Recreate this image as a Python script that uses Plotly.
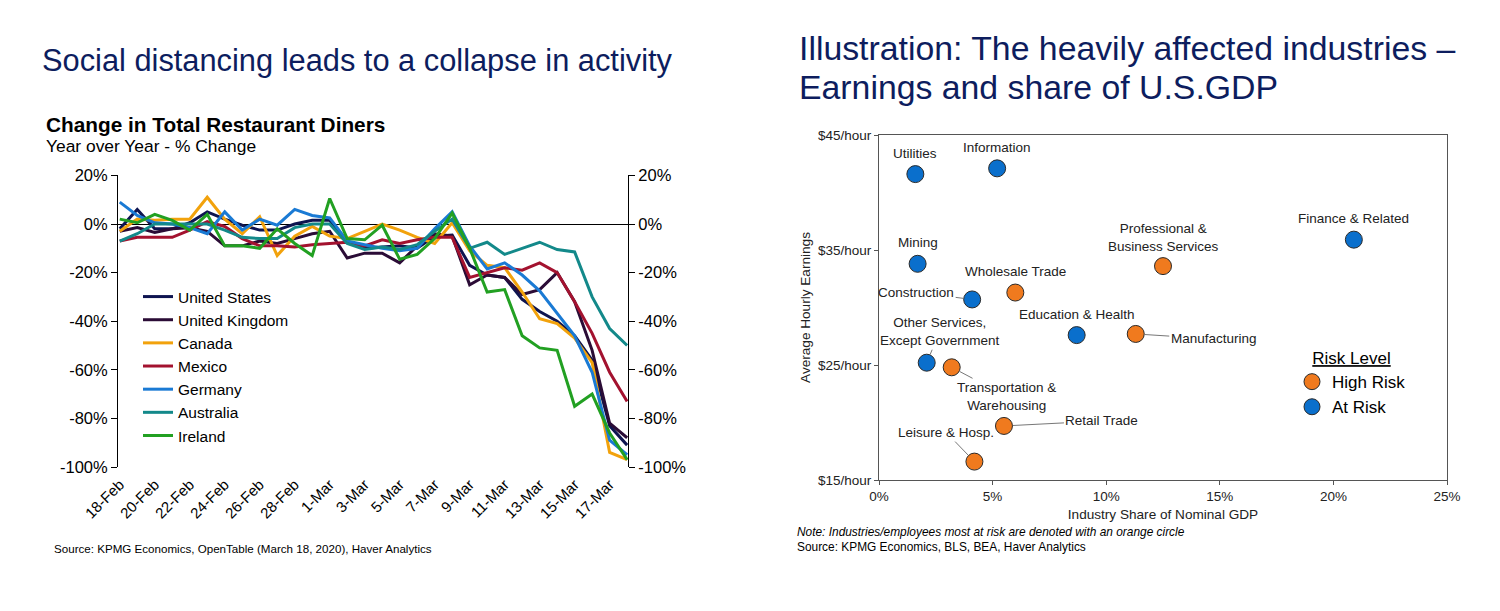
import plotly.graph_objects as go

# page is 1500x611; the html body has an 8px margin, so the figure is 1484x595
FW, FH = 1484, 595
OFF = 8
FONT = "Arial, Liberation Sans, Helvetica, sans-serif"
NAVY = "#0d1d5e"


def PX(X):
    return (X - OFF) / FW


def PY(Y):
    return 1 - (Y - OFF) / FH


# ---------------- Left chart data ----------------
dates = ["18-Feb", "19-Feb", "20-Feb", "21-Feb", "22-Feb", "23-Feb", "24-Feb", "25-Feb",
         "26-Feb", "27-Feb", "28-Feb", "29-Feb", "1-Mar", "2-Mar", "3-Mar", "4-Mar",
         "5-Mar", "6-Mar", "7-Mar", "8-Mar", "9-Mar", "10-Mar", "11-Mar", "12-Mar",
         "13-Mar", "14-Mar", "15-Mar", "16-Mar", "17-Mar", "18-Mar"]
tick_dates = ["18-Feb", "20-Feb", "22-Feb", "24-Feb", "26-Feb", "28-Feb", "1-Mar", "3-Mar",
              "5-Mar", "7-Mar", "9-Mar", "11-Mar", "13-Mar", "15-Mar", "17-Mar"]

united_states = [-2, 6, -2, -2, 0.5, 5, 2, -0.5, -2.5, -2.5, 0, 1.5, 1.5, -7.5, -10, -9.5,
                 -9, -10, -5, -4.5, -17, -21, -22, -31, -36, -40, -46, -56, -83, -91]
united_kingdom = [-3, -1.5, -3.5, -2, -1.5, -3, -9, -9, -7, -8, -6, -4, -3, -14, -12, -12,
                  -16, -9, -4, -5, -25, -21, -22, -29, -27, -20, -32, -52, -82, -88]
canada = [-3, 2, 1.5, 2, 2, 11, 2, -4, 3, -13, -5, -1, -5, -6, -3, 0, -2.5, -5.5, -8,
          0.5, -11, -17, -18, -28, -39, -41, -47, -57, -94, -97]
mexico = [-7, -5.5, -5.5, -5.5, -2.5, 1, -1, -6, -9, -9, -9.5, -8.5, -8, -7.5, -9, -6.5,
          -8, -6.5, -5.5, -5.5, -22, -20, -18, -19, -16, -20, -32, -45, -61, -73]
germany = [9, 3.5, 0.5, 0, -1.5, -4, 5, -2.5, 2, -0.5, 6, 3.5, 2.5, -7, -8.5, -10, -11,
           -10, -2, 5, -9, -18.5, -16, -21, -27.5, -37, -46, -61, -89, -95]
australia = [-7, -4, 0, 0, 0, 0, -2.5, -5.5, -6, -6, -1.5, 0, 0, -8, -10.5, -9.5, -10.5,
             -8.5, -3, 2, -10, -7.5, -12.5, -10, -7.5, -10.5, -11.5, -30, -43, -50]
ireland = [2, 0.5, 4, 1.5, -2.5, 4, -9, -9, -10, -2, -8, -13, 10.5, -6, -6.5, -0.5, -14.5,
           -12.5, -6, 4.5, -10, -28, -27, -46, -51, -52, -75, -70, -86, -97]

left_series = [
    ("United States", united_states, "#0e1450"),
    ("United Kingdom", united_kingdom, "#2b0c36"),
    ("Canada", canada, "#f2a20c"),
    ("Mexico", mexico, "#a3122f"),
    ("Germany", germany, "#1a7ad4"),
    ("Australia", australia, "#13898a"),
    ("Ireland", ireland, "#22a022"),
]

left_ticks = [20, 0, -20, -40, -60, -80, -100]

# ---------------- Right chart data ----------------
industries = ["Utilities", "Information", "Mining", "Construction", "Wholesale Trade",
              "Professional &<br>Business Services", "Finance & Related",
              "Education & Health", "Manufacturing", "Other Services,<br>Except Government",
              "Transportation &<br>Warehousing", "Retail Trade", "Leisure & Hosp."]
gdp_share = [1.6, 5.2, 1.7, 4.1, 6.0, 12.5, 20.9, 8.7, 11.3, 2.1, 3.2, 5.5, 4.2]
hourly_earnings = [41.6, 42.1, 33.8, 30.7, 31.3, 33.6, 35.9, 27.6, 27.7, 25.2, 24.8, 19.7, 16.6]
risk = ["At Risk", "At Risk", "At Risk", "At Risk", "High Risk", "High Risk", "At Risk",
        "At Risk", "High Risk", "At Risk", "High Risk", "High Risk", "High Risk"]
risk_colors = {"High Risk": "#f07a1e", "At Risk": "#0a6fcc"}

x_ticks_right = [0, 5, 10, 15, 20, 25]
y_ticks_right = [15, 25, 35, 45]
y_ticklabels_right = ["$15/hour", "$25/hour", "$35/hour", "$45/hour"]

# label placement: (dx px, dy px, leader line?)  dy positive = text below point
label_layout = {
    "Utilities": (0, -21, False),
    "Information": (0, -21, False),
    "Mining": (0, -21, False),
    "Construction": (-56, -7, True),
    "Wholesale Trade": (0, -21, False),
    "Professional &<br>Business Services": (0, -29, False),
    "Finance & Related": (0, -21, False),
    "Education & Health": (0, -21, False),
    "Manufacturing": (78, 5, True),
    "Other Services,<br>Except Government": (13, -31, True),
    "Transportation &<br>Warehousing": (55, 29, True),
    "Retail Trade": (98, -5, True),
    "Leisure & Hosp.": (-28, -29, True),
}

LABEL_FONT = dict(size=13.5, color="#222", family=FONT)

fig = go.Figure()

for name, vals, col in left_series:
    fig.add_trace(go.Scatter(x=dates, y=vals, mode="lines", name=name,
                             line=dict(color=col, width=3), xaxis="x", yaxis="y",
                             legend="legend"))
# invisible trace to activate right-hand axis of the left chart
fig.add_trace(go.Scatter(x=dates, y=united_states, mode="lines", showlegend=False,
                         line=dict(width=0), opacity=0, hoverinfo="skip",
                         xaxis="x", yaxis="y2"))

for level in ["High Risk", "At Risk"]:
    idx = [i for i, r in enumerate(risk) if r == level]
    fig.add_trace(go.Scatter(
        x=[gdp_share[i] for i in idx], y=[hourly_earnings[i] for i in idx],
        mode="markers", name=level, legend="legend2",
        marker=dict(size=17, color=risk_colors[level], line=dict(color="#2a2a2a", width=1)),
        xaxis="x3", yaxis="y3"))

annotations = []
for name, xv, yv in zip(industries, gdp_share, hourly_earnings):
    dx, dy, leader = label_layout[name]
    if leader:
        annotations.append(dict(x=xv, y=yv, xref="x3", yref="y3", text=name,
                                showarrow=True, arrowhead=0, arrowwidth=1, arrowcolor="#777",
                                ax=dx, ay=dy, standoff=9, font=LABEL_FONT))
    else:
        annotations.append(dict(x=xv, y=yv, xref="x3", yref="y3", text=name,
                                showarrow=False, xshift=dx, yshift=-dy, font=LABEL_FONT))


def paper_text(text, x, y, size, color="#000", xanchor="left", yanchor="middle", **kw):
    annotations.append(dict(text=text, x=PX(x), y=PY(y), xref="paper", yref="paper",
                            showarrow=False, xanchor=xanchor, yanchor=yanchor,
                            font=dict(size=size, color=color, family=FONT), **kw))


paper_text("Social distancing leads to a collapse in activity", 40, 60, 30.8, NAVY)
paper_text("<b>Change in Total Restaurant Diners</b>", 44, 125, 20.8)
paper_text("Year over Year - % Change", 44, 146, 17.4)
paper_text("Source: KPMG Economics, OpenTable (March 18, 2020), Haver Analytics", 52, 548, 11.6)

paper_text("Illustration: The heavily affected industries \u2013", 797, 48, 33.8, NAVY)
paper_text("Earnings and share of U.S.GDP", 797, 87, 33.8, NAVY)
paper_text("<i>Note: Industries/employees most at risk are denoted with an orange circle</i>",
           795, 532, 11.9)
paper_text("Source: KPMG Economics, BLS, BEA, Haver Analytics", 795, 547, 11.9)

axis_font = dict(size=16.5, color="#000", family=FONT)
right_tick_font = dict(size=13.5, family=FONT, color="#222")
right_title_font = dict(size=13.6, family=FONT, color="#222")

fig.update_layout(
    width=FW, height=FH,
    margin=dict(l=0, r=0, t=0, b=0),
    paper_bgcolor="white", plot_bgcolor="white",
    font=dict(family=FONT, color="#000"),
    xaxis=dict(domain=[PX(118), PX(628)], type="category", range=[-0.1, 29.05],
               tickmode="array", tickvals=tick_dates, ticktext=tick_dates, tickangle=-45,
               tickfont=dict(size=15, family=FONT, color="#000"), showline=False,
               showgrid=False, zeroline=False, ticks="", anchor="y", automargin=False,
               ticklabelstandoff=5),
    yaxis=dict(domain=[PY(467), PY(175.4)], range=[-100, 20],
               tickvals=left_ticks, ticktext=[f"{v}%" for v in left_ticks],
               tickfont=axis_font, ticks="outside", ticklen=6, tickcolor="#000",
               showline=True, linecolor="#000", linewidth=1, showgrid=False,
               zeroline=True, zerolinecolor="#000", zerolinewidth=1.3, anchor="x",
               automargin=False),
    yaxis2=dict(overlaying="y", side="right", range=[-100, 20], anchor="x",
                tickvals=left_ticks, ticktext=[f"{v}%" for v in left_ticks],
                tickfont=axis_font, ticks="outside", ticklen=6, tickcolor="#000",
                showline=True, linecolor="#000", linewidth=1, showgrid=False,
                zeroline=False, automargin=False),
    xaxis3=dict(domain=[PX(879), PX(1447)], range=[0, 25], anchor="y3",
                tickvals=x_ticks_right, ticktext=[f"{v}%" for v in x_ticks_right],
                tickfont=right_tick_font, ticks="outside",
                ticklen=4, tickcolor="#555", showline=True, mirror=True, linecolor="#555",
                linewidth=1, showgrid=False, zeroline=False, automargin=False,
                title=dict(text="Industry Share of Nominal GDP", font=right_title_font,
                           standoff=6)),
    yaxis3=dict(domain=[PY(480), PY(135)], range=[15, 45], anchor="x3",
                tickvals=y_ticks_right, ticktext=y_ticklabels_right,
                tickfont=right_tick_font, ticks="outside",
                ticklen=4, tickcolor="#555", showline=True, mirror=True, linecolor="#555",
                linewidth=1, showgrid=False, zeroline=False, automargin=False,
                title=dict(text="Average Hourly Earnings", font=right_title_font,
                           standoff=4)),
    legend=dict(x=PX(138), y=PY(280), xanchor="left", yanchor="top",
                bgcolor="rgba(0,0,0,0)", font=dict(size=15.5, family=FONT, color="#000"),
                tracegroupgap=0, itemwidth=30),
    legend2=dict(x=PX(1292), y=PY(342), xanchor="left", yanchor="top",
                 bgcolor="rgba(0,0,0,0)", font=dict(size=17, family=FONT, color="#000"),
                 title=dict(text="<u>Risk Level</u>", side="top center",
                            font=dict(size=17, family=FONT, color="#000"))),
    annotations=annotations,
    showlegend=True,
)

fig.write_html("out.html")
